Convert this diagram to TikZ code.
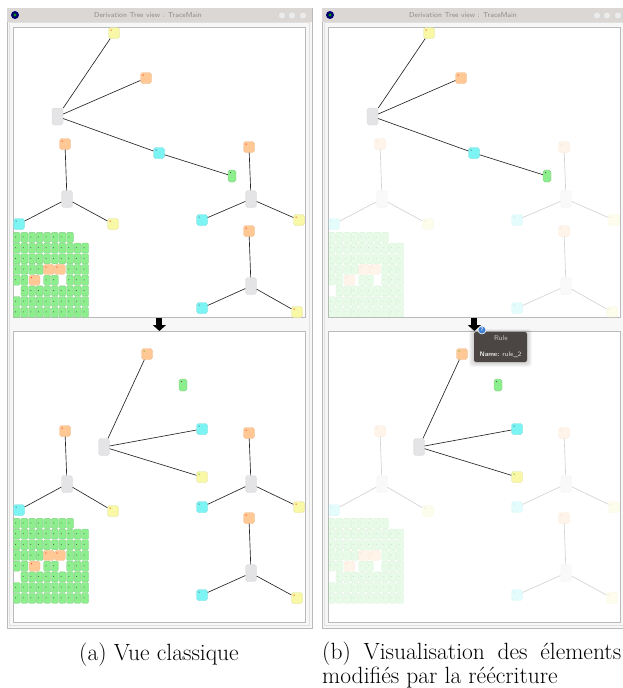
\documentclass[tikz,border=0pt]{standalone}
\usepackage{amsmath,amssymb}
\usepackage{tikz}
\usepackage{xcolor}
\usetikzlibrary{arrows.meta}

\definecolor{termY}{HTML}{F8F8A6}
\definecolor{termO}{HTML}{FFC894}
\definecolor{termC}{HTML}{7CF4F4}
\definecolor{termG}{HTML}{8CEE8C}
\definecolor{ruleG}{HTML}{E4E4E7}
\definecolor{barG}{HTML}{DBD7D4}
\definecolor{tipD}{HTML}{4B4643}
\definecolor{frameG}{HTML}{BABABA}
\definecolor{helpB}{HTML}{3F7FD0}

\tikzset{
  box/.style={rounded corners=1.8pt, inner sep=0pt, minimum width=11pt,
    minimum height=11pt, line width=0.3pt},
  dot/.style={path picture={\fill[#1] ([shift={(2.6pt,-2.6pt)}]path picture bounding box.north west) circle (0.55pt);}},
  ybox/.style={box, fill=termY, draw=termY!80!gray, dot=red},
  obox/.style={box, fill=termO, draw=termO!85!gray, dot=red},
  cbox/.style={box, fill=termC, draw=termC!80!gray, dot=black!70},
  gbox/.style={box, fill=termG, draw=termG!70!gray, minimum width=8pt, minimum height=12pt, dot=black!70},
  rbox/.style={box, fill=ruleG, draw=ruleG!90!gray, minimum height=17pt},
  cell/.style={rounded corners=1.2pt, inner sep=0pt, minimum width=7pt, minimum height=10pt,
    line width=0.3pt, fill=termG, draw=termG!70!gray,
    path picture={\fill[black!70] ([shift={(2.3pt,-4.6pt)}]path picture bounding box.north west) circle (0.5pt);}},
  edge/.style={draw=black!85, line width=0.65pt},
  rest/.style={},
  panel/.style={draw=frameG, fill=white, line width=0.8pt, inner sep=0pt,
    minimum width=292pt, minimum height=290pt, anchor=north west},
  bigarrow/.style={line width=6pt, -{Triangle[length=6pt,width=13pt]}},
  btn/.style={circle, inner sep=0pt, minimum size=7pt, fill=black!8, draw=black!18, line width=0.3pt},
  tip/.style={rounded corners=2pt, fill=tipD, minimum width=53pt, minimum height=30pt, inner sep=0pt},
  caption/.style={inner sep=0pt, font=\fontsize{23.5}{26}\selectfont},
}

% orange -> rule -> cyan / yellow
\newcommand\subtree[5]{%
  \node[obox] (#1o) at (#2) {};
  \node[rbox] (#1r) at (#3) {};
  \node[cbox] (#1c) at (#4) {};
  \node[ybox] (#1y) at (#5) {};
  \draw[edge] (#1o) -- (#1r);
  \draw[edge] (#1r) -- (#1c);
  \draw[edge] (#1r) -- (#1y);
}

% block of terms, top left corner at #2
\newcommand\cellgrid[2]{%
  \begin{scope}[shift={(#2)}]
    \foreach \c in {0,...,7}
      \node[cell] (#1-0-\c) at ({3.8+7.6*\c},5.35) {};
    \foreach \r in {1,2,6,7}
      \foreach \c in {0,...,9}
        \node[cell] (#1-\r-\c) at ({3.8+7.6*\c},{5.35+10.7*\r}) {};
    \foreach \c in {0,1,2,3,7,8,9}
      \node[cell] (#1-3-\c) at ({3.8+7.6*\c},37.45) {};
    \foreach \c in {0,1,4,5,7,8,9}
      \node[cell] (#1-4-\c) at ({3.8+7.6*\c},48.15) {};
    \foreach \c in {1,...,9}
      \node[cell] (#1-5-\c) at ({3.8+7.6*\c},58.85) {};
    \node[obox, minimum height=10pt] (#1-oa) at (35.8,37.45) {};
    \node[obox, minimum height=10pt] (#1-ob) at (46.8,37.45) {};
    \node[obox, minimum height=10pt] (#1-oc) at (21.5,48.15) {};
  \end{scope}
}

\newcommand\treewindow[1]{%
  \fill[black!3] (7,8) rectangle (312,628);
  \draw[frameG, line width=0.8pt] (7,8) rectangle (312,628);
  \draw[black!12, line width=0.6pt] (9.5,22) rectangle (309.5,625.5);
  \fill[barG] (7.4,8.4) rectangle (311.6,22);
  \node[circle, inner sep=0pt, minimum size=8pt, fill=blue!45!black] (#1icon) at (15,15) {};
  \fill[green!60!black] (#1icon.center) circle (1.6pt);
  \node[font=\sffamily\fontsize{7.2}{8}\selectfont, text=black!45] (#1title) at (148,15)
    {Derivation Tree view : TraceMain};
  \node[btn] (#1b1) at (282,15.5) {};
  \node[btn] (#1b2) at (292,15.5) {};
  \node[btn] (#1b3) at (303,15.5) {};
  \node[panel] (#1p1) at (13,27) {};
  \node[panel, minimum height=291pt] (#1p2) at (13,331) {};
  \draw[bigarrow] (#1p1.south) -- (#1p2.north);
}

\newcommand\upperview[1]{%
  \begin{scope}[rest]
    \subtree{#1a}{65,144}{67,199}{19,224}{113,224}
    \subtree{#1b}{249,147}{251,199}{202,220}{299,220}
    \subtree{#1c}{249,231}{251,286}{202,308}{297,312}
    \cellgrid{#1n}{13,232}
  \end{scope}
  \node[ybox] (#1ty) at (114,33) {};
  \node[obox] (#1to) at (146,78) {};
  \node[rbox] (#1tr) at (57.5,116.5) {};
  \node[cbox] (#1tc) at (159,153) {};
  \node[gbox] (#1tg) at (232,176) {};
  \draw[edge] (#1tr) -- (#1ty);
  \draw[edge] (#1tr) -- (#1to);
  \draw[edge] (#1tr) -- (#1tc) -- (#1tg);
}

\newcommand\lowerview[1]{%
  \begin{scope}[rest]
    \subtree{#1a}{65,431}{67,484}{19,510}{113,511}
    \subtree{#1b}{249,433}{251,484}{202,507}{299,507}
    \subtree{#1c}{249,518}{251,573}{202,595}{297,598}
    \cellgrid{#1n}{13,518}
  \end{scope}
  \node[obox, dot=green!70!black] (#1bo) at (147,354) {};
  \node[gbox] (#1bg) at (183,385) {};
  \node[rbox] (#1br) at (104,447) {};
  \node[cbox] (#1bc) at (202,429) {};
  \node[ybox, dot=green!70!black] (#1by) at (202,477) {};
  \draw[edge] (#1br) -- (#1bo);
  \draw[edge] (#1br) -- (#1bc);
  \draw[edge] (#1br) -- (#1by);
}

\begin{document}
\begin{tikzpicture}[x=1pt, y=-1pt]
\useasboundingbox (0,0) rectangle (623,688);
\fill[white] (0,0) rectangle (623,688);

% classic view
\treewindow{L}
\upperview{L1}
\lowerview{L2}

% same view, unchanged parts faded
\begin{scope}[xshift=315pt, rest/.style={opacity=0.2}]
  \treewindow{R}
  \upperview{R1}
  \lowerview{R2}
\end{scope}

% tooltip over the arrow
\foreach \s in {1,...,5}
  \fill[black, opacity=0.035, rounded corners=3pt] ({474-\s},{332-\s*0.6}) rectangle ({527+\s},{362+\s});
\node[tip] (tip) at (500.5,347) {};
\node[font=\sffamily\fontsize{7}{8}\selectfont, text=black!22] (tiprule) at (501,338.5) {Rule};
\node[font=\sffamily\fontsize{6.6}{7}\selectfont, text=black!8] (tipname) at (500.5,354.5) {\textbf{Name:} rule\_2};
\node[circle, inner sep=0pt, minimum size=8pt, fill=helpB, draw=white, line width=0.6pt,
  text=white, font=\sffamily\bfseries\fontsize{5.5}{6}\selectfont] (help) at (482,330) {?};

% captions
\node[caption] (capa) at (159,655) {(a) Vue classique};
\node[caption, anchor=west] (capb) at (322,654)
  {\makebox[299pt][s]{(b) Visualisation des élements}};
\node[caption, anchor=west] (capc) at (322,678) {modifiés par la réécriture};
\end{tikzpicture}
\end{document}
